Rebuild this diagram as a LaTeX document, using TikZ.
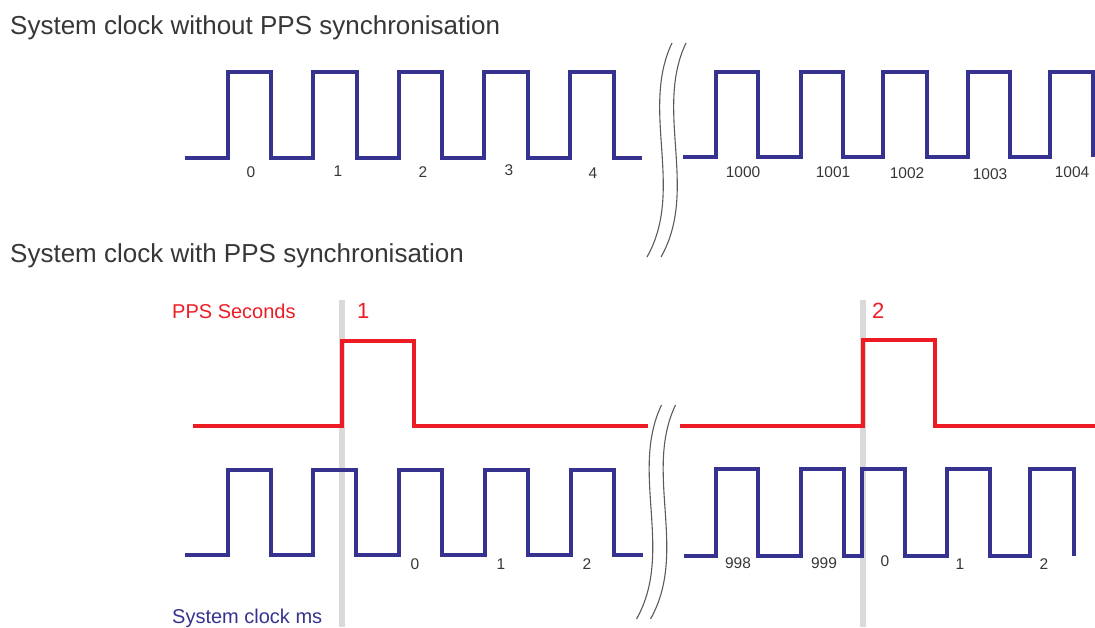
\documentclass[tikz,border=0pt]{standalone}
\usepackage{fontspec}
\setmainfont{Liberation Sans}
\definecolor{clkblue}{RGB}{53,51,143}
\definecolor{ppsred}{RGB}{237,28,36}
\definecolor{txtgray}{RGB}{55,55,55}
\definecolor{bargray}{RGB}{218,218,218}
\definecolor{brkgray}{RGB}{90,90,90}
\tikzset{
  clk/.style={draw=clkblue, line width=4pt, line join=miter},
  pps/.style={draw=ppsred, line width=4pt, line join=miter},
  syncbar/.style={draw=bargray, line width=6pt},
  brk/.style={draw=brkgray, line width=1.1pt},
  title/.style={anchor=base west, inner sep=0pt, text=txtgray, font=\fontsize{26}{30}\selectfont},
  num/.style={anchor=base, inner sep=0pt, text=txtgray, font=\fontsize{15.5}{18}\selectfont},
  lbl/.style={anchor=base west, inner sep=0pt, font=\fontsize{20}{24}\selectfont},
  sec/.style={anchor=base west, inner sep=0pt, text=ppsred, font=\fontsize{22}{26}\selectfont}
}
\begin{document}
\begin{tikzpicture}[x=1pt, y=-1pt]
\useasboundingbox (0,0) rectangle (1095,628);
% titles
\node[title] (t1) at (10,35) {System clock without PPS synchronisation};
\node[title] (t2) at (10,263) {System clock with PPS synchronisation};
% top clock, left part
\draw[clk] (185,158) -- (228,158) -- (228,72) -- (271,72) -- (271,158) -- (313,158) -- (313,72) -- (357,72) -- (357,158) -- (399,158) -- (399,72) -- (442,72) -- (442,158) -- (484,158) -- (484,72) -- (528,72) -- (528,158) -- (570,158) -- (570,72) -- (614,72) -- (614,158) -- (642,158);
% top clock, right part
\draw[clk] (683,157) -- (716,157) -- (716,72) -- (758,72) -- (758,157) -- (801,157) -- (801,72) -- (843,72) -- (843,157) -- (883,157) -- (883,72) -- (927,72) -- (927,157) -- (968,157) -- (968,72) -- (1010,72) -- (1010,157) -- (1050,157) -- (1050,72) -- (1093,72) -- (1093,157);
% top labels
\node[num] (a0) at (251,178) {0};
\node[num] (a1) at (338,177) {1};
\node[num] (a2) at (423,178) {2};
\node[num] (a3) at (509,176) {3};
\node[num] (a4) at (593,179) {4};
\node[num] (b0) at (743,178) {1000};
\node[num] (b1) at (833,178) {1001};
\node[num] (b2) at (907,179) {1002};
\node[num] (b3) at (990,180) {1003};
\node[num] (b4) at (1072,178) {1004};
% top break
\draw[brk] (672,43) .. controls (640,110) and (685,190) .. (647,257);
\draw[brk] (686,43) .. controls (654,110) and (699,190) .. (661,257);
% sync bars
\draw[syncbar] (342,300) -- (342,627);
\draw[syncbar] (863,300) -- (863,627);
% PPS signal
\draw[pps] (193,426) -- (342,426) -- (342,341) -- (414,341) -- (414,426) -- (648,426);
\draw[pps] (680,426) -- (863,426) -- (863,340) -- (935,340) -- (935,426) -- (1095,426);
% bottom clock
\draw[clk] (185,555) -- (228,555) -- (228,470) -- (271,470) -- (271,555) -- (313,555) -- (313,470) -- (356,470) -- (356,555) -- (399,555) -- (399,470) -- (442,470) -- (442,555) -- (485,555) -- (485,470) -- (528,470) -- (528,555) -- (571,555) -- (571,470) -- (614,470) -- (614,555) -- (643,555);
\draw[clk] (684,556) -- (716,556) -- (716,469) -- (758,469) -- (758,556) -- (801,556) -- (801,469) -- (844,469) -- (844,556) -- (862,556) -- (862,469) -- (905,469) -- (905,556) -- (947,556) -- (947,469) -- (990,469) -- (990,556) -- (1030,556) -- (1030,469) -- (1074,469) -- (1074,556);
% bottom break
\draw[brk] (661.5,405) .. controls (629.5,472) and (674.5,552) .. (636.5,619);
\draw[brk] (675.5,405) .. controls (643.5,472) and (688.5,552) .. (650.5,619);
% labels bottom
\node[lbl, text=ppsred] (ppsl) at (172,319) {PPS Seconds};
\node[lbl, text=clkblue] (clkl) at (172,623) {System clock ms};
\node[sec] (s1) at (357,319) {1};
\node[sec] (s2) at (872,319) {2};
\node[num] (c0) at (415,569) {0};
\node[num] (c1) at (501,569) {1};
\node[num] (c2) at (587,569) {2};
\node[num] (d0) at (738,568) {998};
\node[num] (d1) at (824,568) {999};
\node[num] (d2) at (885,566) {0};
\node[num] (d3) at (960,569) {1};
\node[num] (d4) at (1044,569) {2};
\end{tikzpicture}
\end{document}
